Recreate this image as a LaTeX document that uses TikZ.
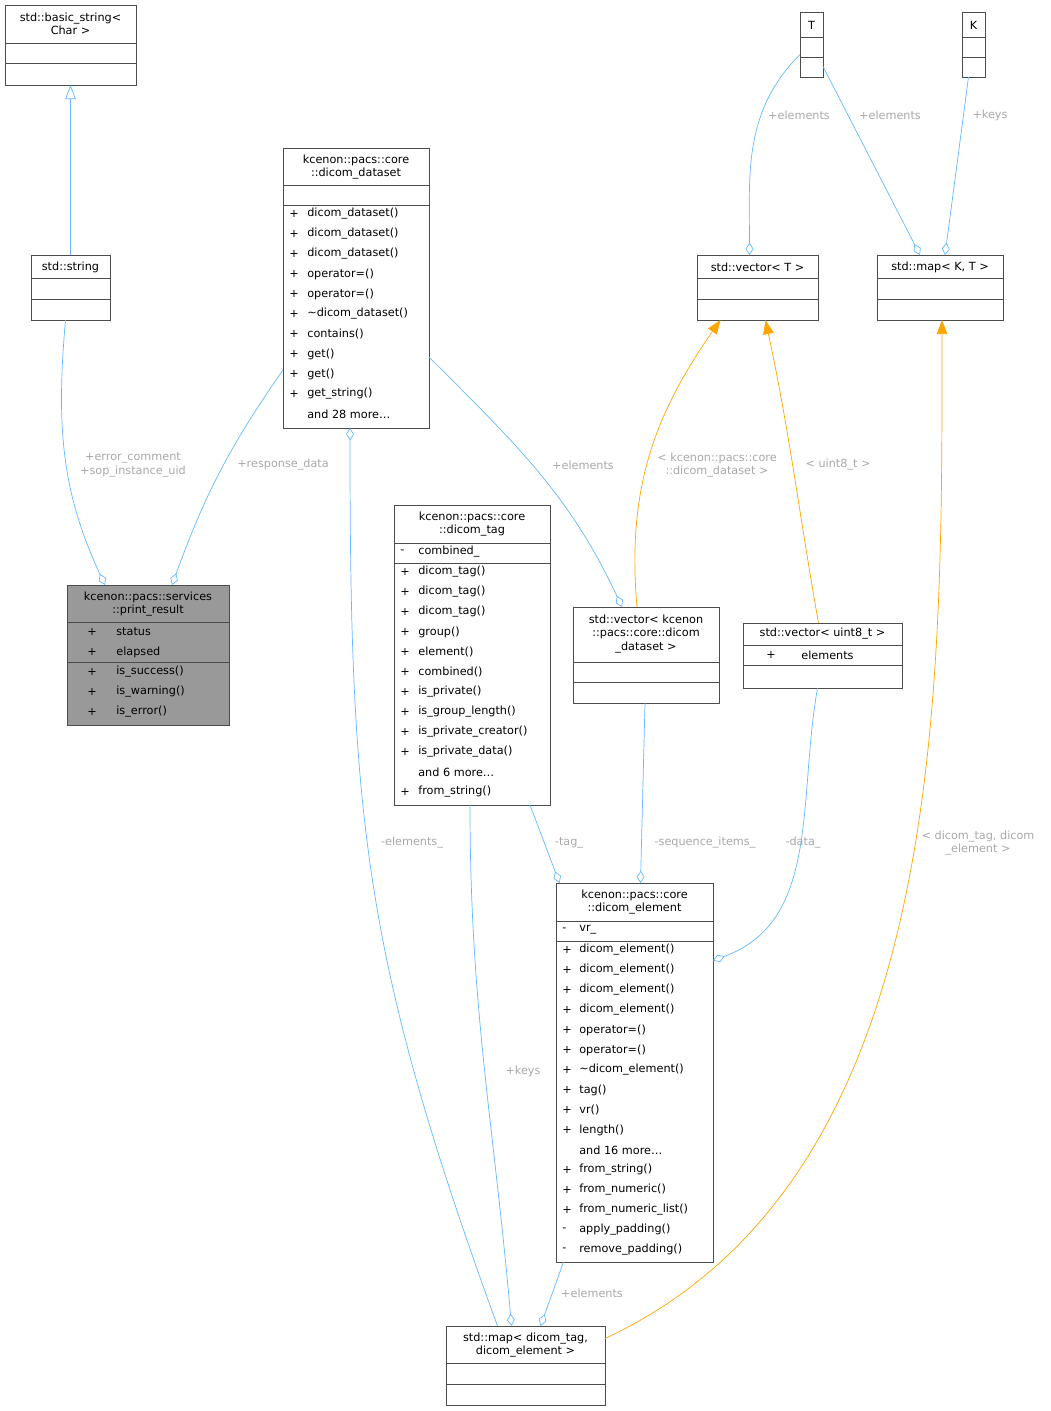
\documentclass[tikz,border=0pt]{standalone}
\usepackage{fontspec}
\setmainfont{DejaVu Sans}
\usetikzlibrary{arrows.meta,calc}

\definecolor{edgeblue}{HTML}{63B8FF}
\definecolor{edgeorange}{HTML}{FFA500}
\definecolor{lblgray}{HTML}{A8A8A8}

\tikzset{
  box/.style={draw=black!70, inner sep=0pt, outer sep=0pt},
  txt/.style={font=\fontsize{6.4}{7.6}\selectfont, inner sep=0pt, align=center},
  mem/.style={txt, anchor=west},
  lbl/.style={txt, text=lblgray},
  agg/.style={draw=edgeblue, -{Diamond[open,length=7pt,width=4.5pt]}},
  tmpl/.style={draw=edgeorange, -{Triangle[length=8pt,width=6pt]}},
  inh/.style={draw=edgeblue, -{Triangle[open,length=8pt,width=6pt]}}
}

% box: [style]{x1}{y1}{x2}{y2}{name}{sep1}{sep2}
\newcommand\umlbox[8][]{%
  \node[box,#1,minimum width={(#4-#2)*0.02cm},minimum height={(#5-#3)*0.02cm}]
    (#6) at ({(#2+#4)/2},{(#3+#5)/2}) {};
  \draw[black!70] (#2,#7) -- (#4,#7) (#2,#8) -- (#4,#8);}
\newcommand\andmore[1]{and #1 more\ldots}

\begin{document}
\begin{tikzpicture}[x=0.02cm,y=-0.02cm]
\useasboundingbox (0,0) rectangle (1051,1411);

% classes
\umlbox{5}{5}{136}{85}{bs}{43}{63}
\node[txt] at (70.5,24) {std::basic\_string<\\Char >};

\umlbox{31}{255}{110}{320}{str}{278}{299}
\node[txt] at (70.5,267) {std::string};

\umlbox[fill=black!40]{67}{585}{229}{725}{pr}{622}{662}
\node[txt] at (148,604) {kcenon::pacs::services\\::print\_result};
\foreach \s/\m [count=\i from 0] in {+/status,+/elapsed,+/is\_success(),+/is\_warning(),+/is\_error()}
  {\node[mem] at (87,632+20*\i) {\s}; \node[mem] at (116,632+20*\i) {\m};}

\umlbox{283}{148}{429}{428}{ds}{185}{205}
\node[txt] at (356,167) {kcenon::pacs::core\\::dicom\_dataset};
\foreach \s/\m [count=\i from 0] in {+/dicom\_dataset(),+/dicom\_dataset(),+/dicom\_dataset(),
    +/operator=(),+/operator=(),+/\textasciitilde dicom\_dataset(),+/contains(),+/get(),+/get(),
    +/get\_string(),/\andmore{28}}
  {\node[mem] at (289,214+20*\i) {\s}; \node[mem] at (307,214+20*\i) {\m};}

\umlbox{394}{505}{550}{805}{dt}{543}{563}
\node[txt] at (472,524) {kcenon::pacs::core\\::dicom\_tag};
\foreach \s/\m [count=\i from 0] in {-/combined\_,+/dicom\_tag(),+/dicom\_tag(),+/dicom\_tag(),
    +/group(),+/element(),+/combined(),+/is\_private(),+/is\_group\_length(),
    +/is\_private\_creator(),+/is\_private\_data(),/\andmore{6},+/from\_string()}
  {\node[mem] at (400,552+20*\i) {\s}; \node[mem] at (418,552+20*\i) {\m};}

\umlbox{573}{607}{719}{703}{vds}{662}{682}
\node[txt] at (646,634) {std::vector< kcenon\\::pacs::core::dicom\\\_dataset >};

\umlbox{743}{623}{902}{688}{vu8}{645}{665}
\node[txt] at (822.5,634) {std::vector< uint8\_t >};
\node[mem] at (766,655) {+}; \node[mem] at (801,655) {elements};

\umlbox{556}{883}{713}{1262}{de}{921}{941}
\node[txt] at (634.5,902) {kcenon::pacs::core\\::dicom\_element};
\foreach \s/\m [count=\i from 0] in {-/vr\_,+/dicom\_element(),+/dicom\_element(),+/dicom\_element(),
    +/dicom\_element(),+/operator=(),+/operator=(),+/\textasciitilde dicom\_element(),+/tag(),+/vr(),
    +/length(),/\andmore{16},+/from\_string(),+/from\_numeric(),+/from\_numeric\_list(),
    -/apply\_padding(),-/remove\_padding()}
  {\node[mem] at (562,930+20*\i) {\s}; \node[mem] at (579,930+20*\i) {\m};}

\umlbox{446}{1326}{605}{1405}{map}{1363}{1384}
\node[txt] at (525.5,1345) {std::map< dicom\_tag,\\dicom\_element >};

\umlbox{800}{12}{823}{77}{T}{37}{57}
\node[txt] at (811.5,25) {T};
\umlbox{962}{12}{985}{77}{K}{37}{57}
\node[txt] at (973.5,25) {K};

\umlbox{697}{255}{818}{320}{vT}{278}{299}
\node[txt] at (757.5,267) {std::vector< T >};
\umlbox{877}{255}{1003}{320}{mKT}{278}{299}
\node[txt] at (940,267) {std::map< K, T >};

% connectors
\draw[inh] (str.north) -- (bs.south);
\draw[agg] ($(str.south)+(-5,0)$) to[out=265,in=115] ($(pr.north)+(-43,0)$);
\draw[agg] ($(ds.west)+(0,82)$) to[out=235,in=70] ($(pr.north)+(24,0)$);
\draw[agg] ($(map.north)+(-28,0)$) to[out=110,in=270,looseness=1.1] ($(ds.south)+(-6,0)$);
\draw[agg] ($(ds.east)+(0,69)$) to[out=-45,in=115] ($(vds.north)+(-24,0)$);
\draw[tmpl] ($(vds.north)+(-9,0)$) to[out=95,in=-125] ($(vT.south)+(-37,0)$);
\draw[tmpl] ($(vu8.north)+(-4,0)$) to[out=100,in=-78] ($(vT.south)+(8,0)$);
\draw[agg] ($(T.west)+(0,10)$) to[out=225,in=90] ($(vT.north)+(-8,0)$);
\draw[agg] ($(T.east)+(0,22)$) -- ($(mKT.north)+(-20,0)$);
\draw[agg] ($(K.south)+(-5,0)$) -- ($(mKT.north)+(5,0)$);
\draw[tmpl] ($(map.east)+(0,-27)$) to[out=25,in=-90,looseness=0.9] ($(mKT.south)+(2,0)$);
\draw[agg] ($(dt.south)+(-2,0)$) to[out=-90,in=95] ($(map.north)+(-14,0)$);
\draw[agg] ($(dt.south)+(58,0)$) -- ($(de.north)+(-75,0)$);
\draw[agg] ($(vds.south)+(-1,0)$) -- ($(de.north)+(6,0)$);
\draw[agg] ($(vu8.south)+(-5,0)$) to[out=-100,in=20] ($(de.east)+(0,-112)$);
\draw[agg] ($(de.south)+(-71,0)$) -- ($(map.north)+(15,0)$);

% labels
\node[lbl] at (133,465) {+error\_comment\\+sop\_instance\_uid};
\node[lbl] at (283,465) {+response\_data};
\node[lbl] at (412,843) {-elements\_};
\node[lbl] at (583,465) {+elements};
\node[lbl] at (717,465) {< kcenon::pacs::core\\::dicom\_dataset >};
\node[lbl] at (838,465) {< uint8\_t >};
\node[lbl] at (799,115) {+elements};
\node[lbl] at (890,115) {+elements};
\node[lbl] at (990,115) {+keys};
\node[lbl] at (978,843) {< dicom\_tag, dicom\\\_element >};
\node[lbl] at (523,1071) {+keys};
\node[lbl] at (569,843) {-tag\_};
\node[lbl] at (705,843) {-sequence\_items\_};
\node[lbl] at (803,843) {-data\_};
\node[lbl] at (592,1293) {+elements};
\end{tikzpicture}
\end{document}
